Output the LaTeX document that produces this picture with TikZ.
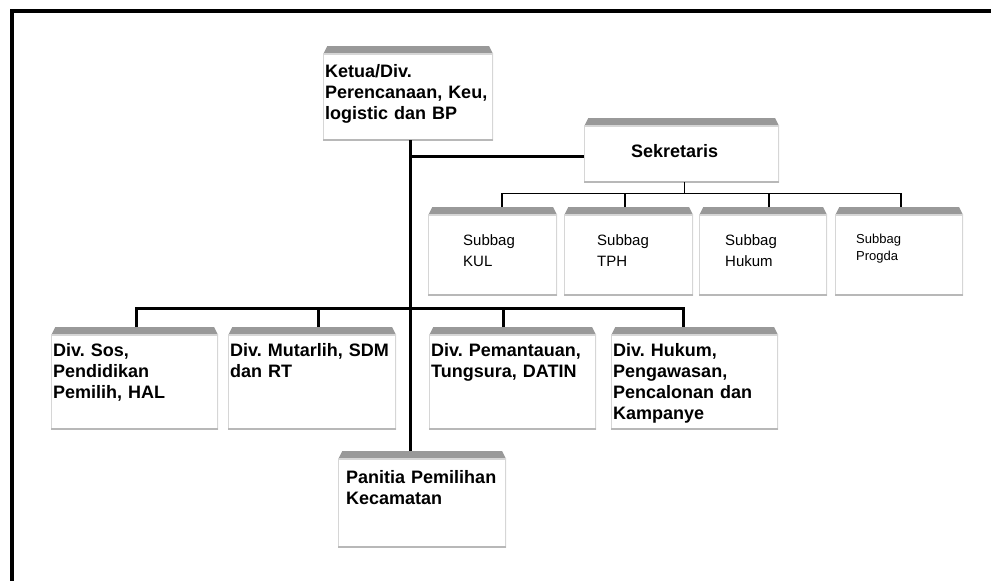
\documentclass[tikz,border=0pt]{standalone}
\usepackage{fontspec}
\setmainfont{Liberation Sans}
\frenchspacing
\definecolor{bevelgray}{HTML}{999999}
\definecolor{boxline}{HTML}{D6D6D6}
\definecolor{boxshade}{HTML}{B8B8B8}

\tikzset{
    unit/.style={anchor=north west, inner ysep=0pt, align=left, fill=white,
        path picture={
            \fill[bevelgray] ([xshift=4pt]path picture bounding box.north west)
                -- ([xshift=-4pt]path picture bounding box.north east)
                -- ([yshift=-8pt]path picture bounding box.north east)
                -- ([yshift=-8pt]path picture bounding box.north west) -- cycle;
            \draw[boxline, line width=2pt] ([yshift=-8pt]path picture bounding box.north west)
                rectangle (path picture bounding box.south east);
            \draw[boxshade, line width=3pt] (path picture bounding box.south west)
                -- (path picture bounding box.south east);
        }},
    divfont/.style={font=\fontsize{18}{21}\selectfont\bfseries},
    subfont/.style={font=\fontsize{15}{21}\selectfont},
    trunk/.style={line width=3pt},
    branch/.style={line width=1.5pt},
}

\begin{document}
\begin{tikzpicture}[x=1pt, y=-1pt]
        \useasboundingbox (0,0) rectangle (991,581);

        % Frame
        \draw[line width=4pt] (12,581) -- (12,11) -- (991,11);

        % Top
        \node[unit, divfont, inner xsep=2pt, text width=166pt, text height=31pt, text depth=63pt] (ketua) at (323,46) {Ketua/Div.\\Perencanaan, Keu,\\logistic dan BP};
        \node[unit, divfont, inner xsep=47pt, text width=101pt, text height=39pt, text depth=25pt] (sekr) at (584,118) {Sekretaris};

        % Subbag
        \node[unit, subfont, inner xsep=35pt, text width=59pt, text height=38pt, text depth=50pt] (kul)    at (428,207) {Subbag\\KUL};
        \node[unit, subfont, inner xsep=33pt, text width=63pt, text height=38pt, text depth=50pt] (tph)    at (564,207) {Subbag\\TPH};
        \node[unit, subfont, inner xsep=26pt, text width=76pt, text height=38pt, text depth=50pt] (hukum)  at (699,207) {Subbag\\Hukum};
        \node[unit, font=\fontsize{13}{17}\selectfont, inner xsep=21pt, text width=86pt, text height=36pt, text depth=52pt] (progda) at (835,207) {Subbag\\Progda};

        % Divisions
        \node[unit, divfont, inner xsep=2pt, text width=163pt, text height=29pt, text depth=73pt] (sos)        at (51,327)  {Div. Sos,\\Pendidikan\\Pemilih, HAL};
        \node[unit, divfont, inner xsep=2pt, text width=164pt, text height=29pt, text depth=73pt] (mutarlih)   at (228,327) {Div. Mutarlih, SDM\\dan RT};
        \node[unit, divfont, inner xsep=2pt, text width=163pt, text height=29pt, text depth=73pt] (pemantauan) at (429,327) {Div. Pemantauan,\\Tungsura, DATIN};
        \node[unit, divfont, inner xsep=2pt, text width=163pt, text height=29pt, text depth=73pt] (hukumdiv)   at (611,327) {Div. Hukum,\\Pengawasan,\\Pencalonan dan\\Kampanye};
        \node[unit, divfont, inner xsep=8pt, text width=152pt, text height=32pt, text depth=64pt] (panitia)    at (338,451) {\mbox{Panitia Pemilihan}\\Kecamatan};

        % Lines
        \coordinate (kt) at ([xshift=2pt]ketua.south);
        \draw[trunk] (kt) -- (kt |- panitia.north);
        \coordinate (sk) at ([yshift=-6pt]sekr.west);
        \draw[trunk] (sk) -- (sk -| kt);

        \draw[branch] ([xshift=3pt]sekr.south) -- ++(0,11) coordinate (sb);
        \foreach \n/\dx in {kul/9.5,tph/-3.5,hukum/6,progda/2}
            \coordinate (\n-top) at ([xshift=\dx pt]\n.north);
        \draw[branch] (kul-top) -- (kul-top |- sb) -- (progda-top |- sb) -- (progda-top);
        \foreach \n in {tph,hukum} \draw[branch] (\n-top) -- (\n-top |- sb);

        \foreach \n/\dx in {sos/1.5,mutarlih/6,pemantauan/-9.5,hukumdiv/-11.5}
            \coordinate (\n-top) at ([xshift=\dx pt]\n.north);
        \draw[trunk] (sos-top) -- ++(0,-19) coordinate (db) -- (db -| hukumdiv-top) -- (hukumdiv-top);
        \foreach \n in {mutarlih,pemantauan} \draw[trunk] (\n-top) -- (\n-top |- db);
    \end{tikzpicture}
\end{document}
